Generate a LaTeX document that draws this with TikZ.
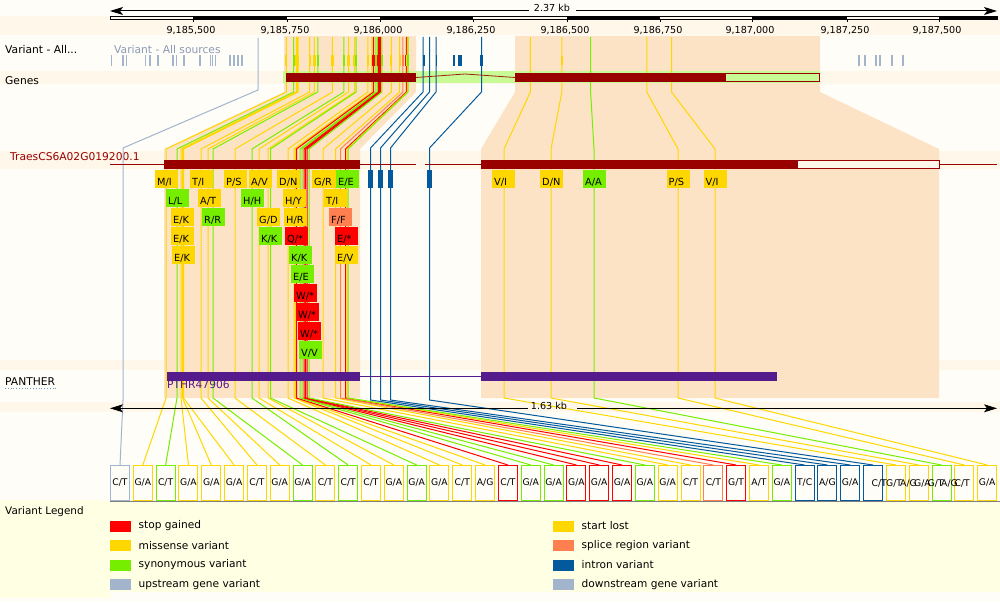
\documentclass[tikz,border=0pt]{standalone}
\usepackage{fontspec}
\setmainfont{DejaVu Sans}
\usetikzlibrary{arrows.meta}
\definecolor{bgc}{HTML}{FFFDF8}
\definecolor{stripe}{HTML}{FEF7EA}
\definecolor{peach}{HTML}{FDE3C6}
\definecolor{tred}{HTML}{990000}
\definecolor{utrg}{HTML}{C8FA96}
\definecolor{vstop}{HTML}{FF0000}
\definecolor{vmis}{HTML}{FFD700}
\definecolor{vsyn}{HTML}{76EE00}
\definecolor{vsplice}{HTML}{FF7F50}
\definecolor{vintr}{HTML}{02599C}
\definecolor{vup}{HTML}{A2B5CD}
\definecolor{vtxt}{HTML}{8A9AB4}
\definecolor{panther}{HTML}{551A8B}
\definecolor{legbg}{HTML}{FFFFE4}
\newcommand\fsz[1]{\fontsize{#1}{#1}\selectfont}
\tikzset{
  tracklabel/.style={anchor=base west, inner sep=0, font=\fsz{10.7}},
  ticklabel/.style={anchor=base, inner sep=0, font=\fsz{9.6}},
  aatext/.style={anchor=base west, inner sep=0, font=\fsz{9.8}},
  boxv/.style={anchor=north west, minimum width=19pt, minimum height=35pt, inner sep=0, fill=bgc, line width=1pt, font=\fsz{9.2}},
  boxtext/.style={anchor=base west, inner sep=0, font=\fsz{9.2}},
  vline/.style={line width=1pt},
  scalearrow/.style={line width=1pt, -{Stealth[length=13pt,width=8pt,inset=3pt]}},
  legtext/.style={anchor=west, inner sep=0, font=\fsz{10.6}},
}
\begin{document}
\begin{tikzpicture}[x=1pt,y=-1pt]
\useasboundingbox (0,0) rectangle (1000,602);
\fill[bgc] (0,0) rectangle (1000,602);
% stripes
\fill[stripe] (0,16) rectangle (1000,35);
\fill[stripe] (0,71) rectangle (1000,84);
\fill[stripe] (0,151) rectangle (1000,169);
\fill[stripe] (0,360) rectangle (1000,370);
\fill[stripe] (0,402) rectangle (1000,412);
% legend background
\fill[legbg] (0,500) rectangle (110,598);
\fill[legbg] (110,501) rectangle (1000,592);
\draw[gray, line width=0.8pt] (110,501) -- (1000,501);
% peach exon regions
\fill[peach] (284,36) -- (416,36) -- (416,92) -- (360,149) -- (360,398) -- (164,398) -- (164,149) -- (284,92) -- cycle;
\fill[peach] (515,36) -- (820,36) -- (820,92) -- (939,149) -- (939,398) -- (481,398) -- (481,149) -- (515,92) -- cycle;
% ruler
\draw[scalearrow] (529,11) -- (110,11);
\draw[scalearrow] (576,11) -- (997,11);
\node[anchor=base, inner sep=0, font=\fsz{9.6}] (len1) at (552,11.5) {2.37 kb};
\draw[line width=0.8pt] (110,16) rectangle (997,19.5);
\foreach \a/\b in {193/287,380/473,567/660,752/847,939/997} \fill (\a,16) rectangle (\b,19.5);
\foreach \t/\p/\q [count=\n] in {193/185/500, 287/185/750, 380/186/000, 473/186/250, 567/186/500, 660/186/750, 752/187/000, 847/187/250, 939/187/500} {
  \draw[line width=0.8pt] (\t,19.5) -- (\t,22);
  \node[ticklabel] (tk\n) at (\t-2,34) {9,\p,\q};
}
% left labels
\node[tracklabel] (lvar) at (5,54) {Variant - All...};
\node[tracklabel] (lgenes) at (5,84) {Genes};
\node[tracklabel, text=tred] (ltr) at (10,160) {TraesCS6A02G019200.1};
\node[tracklabel] (lpan) at (5,385) {PANTHER};
\draw[vintr!60, dotted, line width=0.8pt] (5,388.5) -- (57,388.5);
\node[tracklabel, font=\fsz{10.4}] (lleg) at (5,514) {Variant Legend};
% variant track
\node[tracklabel, text=vtxt] (vsrc) at (114,54) {Variant - All sources};
\foreach \a/\w in {111.7/1.2,123/1.2,126.5/1.2,145.5/1.8,150/1.2,158/1.2,173/2,176.5/1.5,184/1.2,200/1.2,210.5/1.2,212.5/1.2,215.5/1.2,230/1.2,234/1.2,238/1.2,242/1.2,859/1.2,865/1.2,876/1.2,880/1.2,892/1.2,903/2}
  \fill[vup] (\a-\w/2,55) rectangle (\a+\w/2,66);
\foreach \a/\b in {422.5/424.5,435.5/437,452.7/454.5,457.7/462,479.5/483}
  \fill[vintr] (\a,55) rectangle (\b,66);
\fill[vmis] (561,56) rectangle (563,65);
% genes green band
\fill[utrg] (283,71) rectangle (820,83);
% bottom allele boxes
\foreach \i/\c/\p/\q in {1/vup/C/T, 2/vmis/G/A, 3/vsyn/C/T, 4/vmis/G/A, 5/vmis/G/A, 6/vmis/G/A, 7/vmis/C/T, 8/vmis/G/A, 9/vsyn/G/A, 10/vmis/C/T, 11/vsyn/C/T, 12/vmis/C/T, 13/vmis/G/A, 14/vsyn/G/A, 15/vmis/G/A, 16/vmis/C/T, 17/vmis/A/G, 18/vstop/C/T, 19/vsyn/G/A, 20/vsyn/G/A, 21/vstop/G/A, 22/vstop/G/A, 23/vstop/G/A, 24/vsyn/G/A, 25/vmis/G/A, 26/vmis/C/T, 27/vsplice/C/T, 28/vstop/G/T, 29/vmis/A/T, 30/vsyn/G/A, 31/vintr/T/C, 32/vintr/A/G, 33/vintr/G/A, 39/vmis/G/A} {
  \pgfmathsetmacro\bx{110+(\i-1)*22.82}
  \node[boxv, draw=\c] (b\i) at (\bx,465) {\p/\q};
}
\foreach \i/\c in {34/vintr, 35/vmis, 36/vmis, 37/vsyn, 38/vmis} {
  \pgfmathsetmacro\bx{110+(\i-1)*22.82}
  \node[boxv, draw=\c] (b\i) at (\bx,465) {};
}
% overlapping allele labels
\foreach \x/\p/\q [count=\n] in {871.5/C/T, 886/G/T, 900/A/G, 914/G/A, 927.5/G/T, 941/A/G, 954.5/C/T}
  \node[boxtext] (ov\n) at (\x,486) {\p/\q};
% upstream variant line
\coordinate (g0) at (123,400);
\draw[vline, vup] (258,38) -- (258,90) -- (123,148) -- (g0) -- (b1.north);
% region 1 variant lines
\foreach \i/\tx/\c in {2/166/vmis, 3/177/vsyn, 4/181/vmis, 5/182.5/vmis, 6/183.5/vmis, 7/201/vmis, 8/208/vmis, 9/213/vsyn, 10/235/vmis, 11/252/vsyn, 12/259/vmis, 13/268/vmis, 14/270.5/vsyn, 15/288/vmis, 16/294/vmis, 17/295.5/vmis, 18/296.5/vstop, 19/300/vsyn, 20/302/vsyn, 21/304/vstop, 22/305.5/vstop, 23/307/vstop, 24/309/vsyn, 25/323/vmis, 26/335.5/vmis, 27/340.5/vsplice, 28/345.5/vstop, 29/347/vmis, 30/348/vsyn} {
  \pgfmathsetmacro\tp{285+(\tx-164)/1.496}
  \coordinate (v\i) at (\tx,398);
  \fill[\c] (\tp-1.1,55) rectangle (\tp+1.1,66);
  \draw[vline, \c] (\tp,37) -- (\tp,92) -- (\tx,149) -- (v\i) -- (b\i.north);
}
% region 2 variant lines
\foreach \i/\tx/\c in {35/504/vmis, 36/551/vmis, 37/594/vsyn, 38/678/vmis, 39/715/vmis} {
  \pgfmathsetmacro\tp{515+(\tx-481)/1.495}
  \coordinate (v\i) at (\tx,398);
  \draw[vline, \c] (\tp,37) -- (\tp,92) -- (\tx,149) -- (v\i) -- (b\i.north);
}
% intron variant lines
\foreach \i/\tp/\tx in {31/423/370.5, 32/429.5/380.5, 33/436/390.5, 34/481.5/429.5} {
  \coordinate (v\i) at (\tx,400);
  \draw[vline, vintr] (\tp,37) -- (\tp,92) -- (\tx,148) -- (v\i) -- (b\i.north);
}
% gene model (genes track)
\fill[tred] (286,73) rectangle (416,82);
\draw[tred!75!brown, line width=0.8pt] (416,77.5) -- (465,74) -- (515,77.5);
\fill[tred] (515,73) rectangle (725,82);
\draw[tred, fill=utrg, line width=1pt] (725,73.5) rectangle (819.5,81.5);
% transcript
\draw[tred, line width=1pt] (110,164) -- (416,164);
\draw[tred, line width=1pt] (425,164) -- (997,164);
\fill[tred] (164,160) rectangle (360,168.5);
\fill[tred] (481,160) rectangle (797,168.5);
\draw[tred, fill=stripe, line width=1pt] (797,160.5) rectangle (939,168);
\foreach \a in {368,378,388,427} \fill[vintr] (\a,170) rectangle (\a+5,188);
% amino acid labels
\foreach \x/\y/\c/\p/\q [count=\n] in {155/170/vmis/M/I, 190/170/vmis/T/I, 224/170/vmis/P/S, 249/170/vmis/A/V, 277/170/vmis/D/N, 312/170/vmis/G/R, 336/170/vsyn/E/E, 166/189/vsyn/L/L, 198/189/vmis/A/T, 241/189/vsyn/H/H, 283/189/vmis/H/Y, 324/189/vmis/T/I, 171/208/vmis/E/K, 202/208/vsyn/R/R, 257/208/vmis/G/D, 284/208/vmis/H/R, 329/208/vsplice/F/F, 171/227/vmis/E/K, 259/227/vsyn/K/K, 285/227/vstop/Q/*, 335/227/vstop/E/*, 172/246/vmis/E/K, 289/246/vsyn/K/K, 335/246/vmis/E/V, 291/265/vsyn/E/E, 294/284/vstop/W/*, 296/303/vstop/W/*, 298/322/vstop/W/*, 299/341/vsyn/V/V, 492/170/vmis/V/I, 540/170/vmis/D/N, 583/170/vsyn/A/A, 666.5/170/vmis/P/S, 703.5/170/vmis/V/I} {
  \fill[\c] (\x,\y) rectangle (\x+23,\y+18);
  \node[aatext] (aa\n) at (\x+2,\y+15) {\p/\q};
}
% PANTHER
\node[anchor=base west, inner sep=0, font=\fsz{10.7}, text=panther] (pthr) at (167,388) {PTHR47906};
\draw[panther, line width=1pt] (360,376.5) -- (481,376.5);
\fill[panther] (167,372) rectangle (360,381);
\fill[panther] (481,372) rectangle (777,381);
% lower scale arrow
\draw[scalearrow] (528,408.3) -- (110,408.3);
\draw[scalearrow] (577,408.3) -- (997,408.3);
\node[anchor=base, inner sep=0, font=\fsz{9.6}] (len2) at (549,409) {1.63 kb};
% legend entries
\foreach \c/\t/\y [count=\n] in {vstop/stop gained/520.5, vmis/missense variant/540, vsyn/synonymous variant/559.5, vup/upstream gene variant/579} {
  \fill[\c] (110,\y) rectangle (131,\y+11);
  \node[legtext] (la\n) at (138.5,\y+5.5) {\t};
}
\foreach \c/\t/\y [count=\n] in {vmis/start lost/520.5, vsplice/splice region variant/540, vintr/intron variant/559.5, vup/downstream gene variant/579} {
  \fill[\c] (553,\y) rectangle (574,\y+11);
  \node[legtext] (lb\n) at (581.5,\y+5.5) {\t};
}
\end{tikzpicture}
\end{document}
